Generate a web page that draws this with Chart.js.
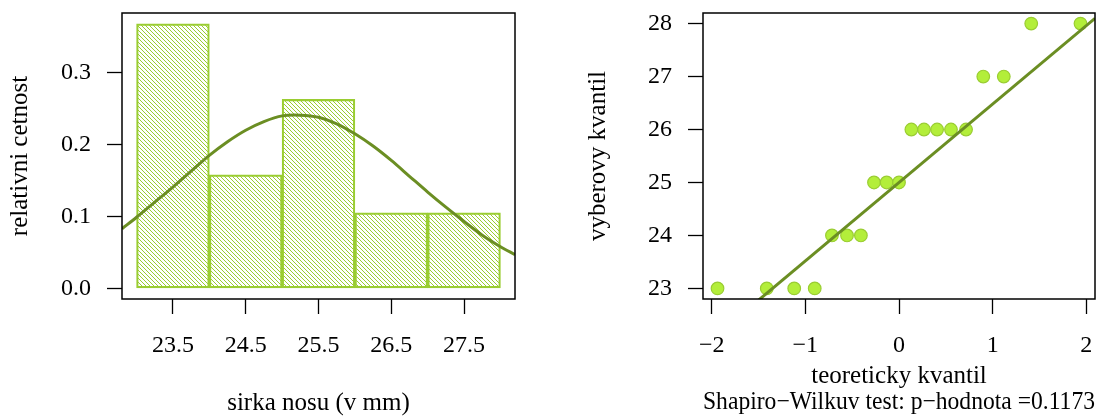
<!DOCTYPE html>
<html>
<head>
<meta charset="utf-8">
<script src="https://cdn.jsdelivr.net/npm/chart.js@4/dist/chart.umd.min.js"></script>
<style>
  html, body { margin: 0; padding: 0; background: #fff; }
  #wrap { position: relative; width: 1108px; height: 419px; }
  #histChart { position: absolute; left: 0; top: 0; }
  #qqChart { position: absolute; left: 554px; top: 0; }
</style>
</head>
<body>
<div id="wrap">
  <canvas id="histChart" width="554" height="419"></canvas>
  <canvas id="qqChart" width="554" height="419"></canvas>
</div>
<script>
// histogram (sirka nosu)
const binMids = [23.5, 24.5, 25.5, 26.5, 27.5];
const relFreq = [0.368, 0.158, 0.263, 0.105, 0.105];

// fitted normal curve
const curveX = [22.8, 23.0, 23.25, 23.5, 23.75, 24.0, 24.25, 24.5, 24.75, 25.0, 25.25, 25.5,
                25.75, 26.0, 26.25, 26.5, 26.75, 27.0, 27.25, 27.5, 27.75, 28.0, 28.2];
const curveY = [0.083, 0.099, 0.120, 0.141, 0.163, 0.185, 0.204, 0.220, 0.232, 0.240, 0.241, 0.238,
                0.229, 0.215, 0.198, 0.178, 0.156, 0.134, 0.113, 0.093, 0.074, 0.058, 0.047];

const histXTicks = [23.5, 24.5, 25.5, 26.5, 27.5];
const histXLabels = ['23.5', '24.5', '25.5', '26.5', '27.5'];
const histYTicks = [0, 0.1, 0.2, 0.3];
const histYLabels = ['0.0', '0.1', '0.2', '0.3'];

// Q-Q plot
const qqTheo = [-1.938, -1.412, -1.119, -0.900, -0.716, -0.555, -0.407, -0.267, -0.132, 0,
                0.132, 0.267, 0.407, 0.555, 0.716, 0.900, 1.119, 1.412, 1.938];
const qqSample = [23, 23, 23, 23, 24, 24, 24, 25, 25, 25, 26, 26, 26, 26, 26, 27, 27, 28, 28];
const qqLineX = [-2.093, 2.093];
const qqLineY = [21.9, 28.1];

const qqXTicks = [-2, -1, 0, 1, 2];
const qqXLabels = ['\u22122', '\u22121', '0', '1', '2'];
const qqYTicks = [23, 24, 25, 26, 27, 28];
const qqYLabels = ['23', '24', '25', '26', '27', '28'];

const serif = "'Liberation Serif', 'DejaVu Serif', serif";
const tickFont = { family: serif, size: 24, lineHeight: 1.2 };
const titleFont = { family: serif, size: 25, lineHeight: 26 / 25 };

const olive = '#6B8E23';
const yellowGreen = '#9ACD32';

// hatch fill for the bars
function hatch() {
  const c = document.createElement('canvas');
  c.width = 4; c.height = 4;
  const g = c.getContext('2d');
  g.strokeStyle = yellowGreen;
  g.lineWidth = 1.0;
  g.beginPath();
  g.moveTo(-1, -1); g.lineTo(5, 5);
  g.moveTo(-1, 3); g.lineTo(1, 5);
  g.moveTo(3, -1); g.lineTo(5, 1);
  g.stroke();
  return g.createPattern(c, 'repeat');
}

const boxPlugin = {
  id: 'box',
  afterDatasetsDraw(chart) {
    const { ctx, chartArea: a } = chart;
    ctx.save();
    ctx.strokeStyle = '#000';
    ctx.lineWidth = 1.5;
    ctx.strokeRect(a.left, a.top, a.right - a.left, a.bottom - a.top);
    ctx.restore();
  }
};

function xAxis(min, max, ticks, labels, title, pad) {
  return {
    type: 'linear', min, max, offset: false,
    afterBuildTicks: s => { s.ticks = ticks.map(v => ({ value: v })); },
    afterFit: s => { s.height = 120; s.paddingLeft = 0; s.paddingRight = 0; },
    ticks: { font: tickFont, color: '#000', padding: 17, maxRotation: 0, autoSkip: false,
             callback: (v, i) => labels[i] },
    grid: { display: true, drawOnChartArea: false, offset: false, tickLength: 15, tickColor: '#000', tickWidth: 1.3 },
    border: { display: false },
    title: { display: true, text: title, font: titleFont, color: '#000', padding: { top: 0, bottom: pad } }
  };
}

function yAxis(min, max, ticks, labels, title, width, pad) {
  return {
    type: 'linear', min, max,
    afterBuildTicks: s => { s.ticks = ticks.map(v => ({ value: v })); },
    afterFit: s => { s.width = width; s.paddingTop = 0; s.paddingBottom = 0; },
    ticks: { font: tickFont, color: '#000', padding: 16, autoSkip: false,
             callback: (v, i) => labels[i] },
    grid: { display: true, drawOnChartArea: false, tickLength: 15, tickColor: '#000', tickWidth: 1.3 },
    border: { display: false },
    title: { display: true, text: title, font: titleFont, color: '#000', padding: { top: pad, bottom: 0 } }
  };
}

new Chart(document.getElementById('histChart'), {
  type: 'scatter',
  data: {
    datasets: [
      {
        type: 'line',
        data: curveX.map((x, i) => ({ x, y: curveY[i] })),
        borderColor: olive, borderWidth: 3, pointRadius: 0,
        tension: 0.3, fill: false, clip: 0
      },
      {
        type: 'bar',
        data: binMids.map((x, i) => ({ x, y: relFreq[i] })),
        backgroundColor: hatch(), borderColor: yellowGreen, borderWidth: 1.5,
        borderSkipped: false, categoryPercentage: 1, barPercentage: 1
      }
    ]
  },
  options: {
    responsive: false, animation: false,
    layout: { autoPadding: false, padding: { left: 0, top: 13, right: 39, bottom: 0 } },
    plugins: { legend: { display: false }, tooltip: { enabled: false } },
    scales: {
      x: xAxis(22.8, 28.2, histXTicks, histXLabels, 'sirka nosu (v mm)', 3),
      y: yAxis(-0.01474, 0.3831, histYTicks, histYLabels, 'relativni cetnost', 122, 7)
    }
  },
  plugins: [boxPlugin]
});

new Chart(document.getElementById('qqChart'), {
  type: 'scatter',
  data: {
    datasets: [
      {
        type: 'line',
        data: qqLineX.map((x, i) => ({ x, y: qqLineY[i] })),
        borderColor: olive, borderWidth: 3, pointRadius: 0, fill: false, clip: 0
      },
      {
        data: qqTheo.map((x, i) => ({ x, y: qqSample[i] })),
        backgroundColor: '#B3EE3A', borderColor: yellowGreen, borderWidth: 1.2, pointRadius: 6.3
      }
    ]
  },
  options: {
    responsive: false, animation: false,
    layout: { autoPadding: false, padding: { left: 0, top: 13, right: 13, bottom: 0 } },
    plugins: { legend: { display: false }, tooltip: { enabled: false } },
    scales: {
      x: xAxis(-2.093, 2.093, qqXTicks, qqXLabels,
               ['teoreticky kvantil', 'Shapiro\u2212Wilkuv test: p\u2212hodnota =0.1173'], 4),
      y: yAxis(22.8, 28.2, qqYTicks, qqYLabels, 'vyberovy kvantil', 149, 31)
    }
  },
  plugins: [boxPlugin]
});
</script>
</body>
</html>
